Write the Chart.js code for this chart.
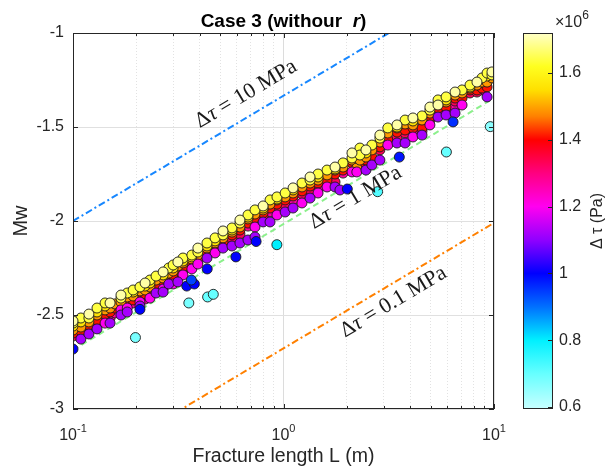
<!DOCTYPE html>
<html>
<head>
<meta charset="utf-8">
<script src="https://cdn.jsdelivr.net/npm/chart.js@4.4.0/dist/chart.umd.min.js"></script>
<style>
  html, body { margin: 0; padding: 0; background: #fff; }
</style>
</head>
<body>
<canvas id="chart" width="608" height="472"></canvas>
<script>
// ticks
const xTicks = [0.1, 0.2, 0.3, 0.4, 0.5, 0.6, 0.7, 0.8, 0.9, 1, 2, 3, 4, 5, 6, 7, 8, 9, 10];
const xMajor = [0.1, 1, 10];
const xExp = ['-1', '0', '1'];
const yTicks = [-3, -2.5, -2, -1.5, -1];
const cbTicks = [0.6, 0.8, 1, 1.2, 1.4, 1.6];
const cbRange = [0.594, 1.72];

// reference lines (Mw at L = 0.1 m and L = 10 m)
const refL = [0.1, 10];
const mw10MPa = [-2.0, -0.667];
const mw1MPa = [-2.686, -1.346];
const mw01MPa = [-3.345, -2.01];

// [L (m), Mw, delta tau (x1e6 Pa)]
const events = [
  [0.1, -2.532, 1.70], [0.1, -2.543, 1.64], [0.1, -2.559, 1.56], [0.1, -2.580, 1.49], [0.1, -2.596, 1.41], [0.1, -2.612, 1.33], [0.1, -2.681, 1.0],
  [0.109, -2.516, 1.64], [0.109, -2.537, 1.56], [0.109, -2.564, 1.49], [0.109, -2.585, 1.41], [0.109, -2.596, 1.33], [0.109, -2.628, 1.12],
  [0.119, -2.495, 1.70], [0.119, -2.516, 1.64], [0.119, -2.537, 1.49], [0.119, -2.553, 1.41], [0.119, -2.574, 1.33], [0.119, -2.601, 1.12],
  [0.130, -2.463, 1.64], [0.130, -2.484, 1.56], [0.130, -2.500, 1.49], [0.130, -2.527, 1.41], [0.130, -2.548, 1.27], [0.130, -2.574, 1.12],
  [0.142, -2.436, 1.64], [0.142, -2.452, 1.56], [0.142, -2.473, 1.49], [0.142, -2.495, 1.41], [0.142, -2.527, 1.33], [0.142, -2.543, 1.2],
  [0.150, -2.436, 1.70], [0.150, -2.463, 1.49], [0.150, -2.484, 1.41], [0.150, -2.516, 1.27], [0.150, -2.543, 1.12],
  [0.158, -2.441, 1.49], [0.158, -2.463, 1.41], [0.158, -2.489, 1.27],
  [0.169, -2.394, 1.70], [0.169, -2.410, 1.64], [0.169, -2.431, 1.49], [0.169, -2.447, 1.41], [0.169, -2.473, 1.2], [0.169, -2.500, 1.12],
  [0.181, -2.383, 1.64], [0.181, -2.404, 1.49], [0.181, -2.426, 1.41], [0.181, -2.447, 1.27], [0.181, -2.463, 1.2], [0.181, -2.484, 1.12],
  [0.193, -2.367, 1.64], [0.193, -2.378, 1.56], [0.193, -2.399, 1.49], [0.193, -2.420, 1.41], [0.193, -2.436, 1.27],
  [0.208, -2.470, 1.0], [0.198, -2.620, 0.68],
  [0.208, -2.351, 1.64], [0.208, -2.372, 1.49], [0.208, -2.388, 1.41], [0.208, -2.404, 1.33], [0.208, -2.431, 1.2], [0.208, -2.452, 1.12],
  [0.220, -2.330, 1.70], [0.220, -2.346, 1.56], [0.220, -2.367, 1.49], [0.220, -2.388, 1.41], [0.220, -2.415, 1.27],
  [0.232, -2.314, 1.64], [0.232, -2.330, 1.56], [0.232, -2.351, 1.49], [0.232, -2.367, 1.41], [0.232, -2.388, 1.33], [0.232, -2.410, 1.2],
  [0.248, -2.293, 1.64], [0.248, -2.314, 1.49], [0.248, -2.335, 1.41], [0.248, -2.356, 1.27], [0.248, -2.383, 1.12],
  [0.268, -2.271, 1.70], [0.268, -2.287, 1.56], [0.268, -2.303, 1.49], [0.268, -2.319, 1.41], [0.268, -2.340, 1.33], [0.268, -2.362, 1.2], [0.268, -2.378, 1.12],
  [0.285, -2.250, 1.64], [0.285, -2.277, 1.49], [0.285, -2.303, 1.41], [0.285, -2.319, 1.27], [0.285, -2.335, 1.12],
  [0.299, -2.234, 1.64], [0.299, -2.250, 1.56], [0.299, -2.266, 1.49], [0.299, -2.287, 1.41], [0.299, -2.309, 1.33], [0.299, -2.335, 1.2],
  [0.315, -2.218, 1.70], [0.315, -2.239, 1.49], [0.315, -2.261, 1.41], [0.315, -2.271, 1.27], [0.315, -2.324, 1.12],
  [0.333, -2.197, 1.64], [0.333, -2.213, 1.56], [0.333, -2.223, 1.49], [0.333, -2.245, 1.41], [0.333, -2.266, 1.33], [0.333, -2.287, 1.2],
  [0.347, -2.346, 1.0], [0.377, -2.335, 1.0], [0.365, -2.314, 0.94], [0.355, -2.436, 0.68],
  [0.367, -2.181, 1.64], [0.367, -2.191, 1.56], [0.367, -2.202, 1.49], [0.367, -2.218, 1.41], [0.367, -2.234, 1.33], [0.367, -2.255, 1.2],
  [0.392, -2.144, 1.70], [0.392, -2.165, 1.64], [0.392, -2.181, 1.49], [0.392, -2.197, 1.41], [0.392, -2.218, 1.27], [0.392, -2.229, 1.2],
  [0.433, -2.117, 1.64], [0.433, -2.133, 1.56], [0.433, -2.144, 1.49], [0.433, -2.165, 1.41], [0.433, -2.181, 1.33], [0.433, -2.197, 1.12],
  [0.434, -2.255, 1.0], [0.436, -2.404, 0.7], [0.464, -2.390, 0.7],
  [0.473, -2.090, 1.64], [0.473, -2.106, 1.56], [0.473, -2.117, 1.49], [0.473, -2.133, 1.41], [0.473, -2.154, 1.33], [0.473, -2.170, 1.2],
  [0.516, -2.053, 1.70], [0.516, -2.074, 1.64], [0.516, -2.090, 1.49], [0.516, -2.112, 1.41], [0.516, -2.133, 1.27], [0.516, -2.144, 1.12],
  [0.569, -2.037, 1.64], [0.569, -2.048, 1.56], [0.569, -2.059, 1.49], [0.569, -2.074, 1.41], [0.569, -2.096, 1.33], [0.569, -2.133, 1.12],
  [0.594, -2.191, 1.0],
  [0.621, -1.995, 1.70], [0.621, -2.011, 1.64], [0.621, -2.032, 1.49], [0.621, -2.048, 1.41], [0.621, -2.069, 1.33], [0.621, -2.117, 1.12],
  [0.678, -1.968, 1.64], [0.678, -1.979, 1.56], [0.678, -1.989, 1.49], [0.678, -2.011, 1.41], [0.678, -2.027, 1.27], [0.678, -2.101, 1.12],
  [0.732, -1.941, 1.64], [0.732, -1.963, 1.49], [0.732, -1.984, 1.41], [0.732, -2.005, 1.33], [0.732, -2.032, 1.2], [0.732, -2.085, 1.12],
  [0.741, -2.109, 1.0],
  [0.80, -1.920, 1.70], [0.80, -1.931, 1.56], [0.80, -1.941, 1.49], [0.80, -1.957, 1.41], [0.80, -1.979, 1.33], [0.80, -2.005, 1.12],
  [0.863, -1.888, 1.64], [0.863, -1.910, 1.49], [0.863, -1.931, 1.41], [0.863, -1.952, 1.27], [0.863, -2.005, 1.12],
  [0.931, -1.872, 1.64], [0.931, -1.883, 1.56], [0.931, -1.888, 1.49], [0.931, -1.910, 1.41], [0.931, -1.931, 1.33], [0.931, -1.968, 1.2],
  [0.93, -2.126, 0.8],
  [1.018, -1.851, 1.64], [1.018, -1.872, 1.49], [1.018, -1.888, 1.41], [1.018, -1.915, 1.33], [1.018, -1.952, 1.12],
  [1.11, -1.824, 1.70], [1.11, -1.835, 1.56], [1.11, -1.851, 1.49], [1.11, -1.867, 1.41], [1.11, -1.888, 1.27], [1.11, -1.931, 1.12],
  [1.224, -1.798, 1.64], [1.224, -1.819, 1.49], [1.224, -1.840, 1.41], [1.224, -1.856, 1.33], [1.224, -1.904, 1.2],
  [1.337, -1.766, 1.70], [1.337, -1.782, 1.64], [1.337, -1.798, 1.49], [1.337, -1.814, 1.41], [1.337, -1.835, 1.33], [1.337, -1.878, 1.12],
  [1.459, -1.750, 1.64], [1.459, -1.766, 1.56], [1.459, -1.782, 1.49], [1.459, -1.798, 1.41], [1.459, -1.835, 1.27], [1.459, -1.851, 1.2],
  [1.61, -1.729, 1.64], [1.61, -1.755, 1.49], [1.61, -1.782, 1.41], [1.61, -1.798, 1.33], [1.61, -1.819, 1.2],
  [1.757, -1.713, 1.70], [1.757, -1.723, 1.56], [1.757, -1.729, 1.49], [1.757, -1.750, 1.41], [1.757, -1.793, 1.33], [1.757, -1.819, 1.12],
  [1.918, -1.691, 1.64], [1.918, -1.713, 1.49], [1.918, -1.729, 1.41], [1.918, -1.745, 1.27], [1.854, -1.835, 1.12], [2.01, -1.830, 1.0],
  [2.115, -1.638, 1.70], [2.115, -1.665, 1.64], [2.115, -1.676, 1.49], [2.115, -1.691, 1.41], [2.115, -1.739, 1.2],
  [2.23, -1.718, 1.49], [2.23, -1.739, 1.2],
  [2.307, -1.612, 1.64], [2.307, -1.649, 1.64], [2.307, -1.676, 1.49], [2.307, -1.697, 1.41], [2.307, -1.718, 1.27],
  [2.464, -1.622, 1.70], [2.464, -1.638, 1.56], [2.464, -1.660, 1.49], [2.464, -1.676, 1.41], [2.464, -1.697, 1.33], [2.464, -1.729, 1.12],
  [2.63, -1.596, 1.64], [2.63, -1.622, 1.49], [2.63, -1.660, 1.41], [2.63, -1.686, 1.33], [2.63, -1.702, 1.12],
  [2.80, -1.844, 0.72],
  [2.87, -1.543, 1.70], [2.87, -1.559, 1.64], [2.87, -1.580, 1.49], [2.87, -1.606, 1.41], [2.87, -1.622, 1.33], [2.87, -1.676, 1.12],
  [3.13, -1.505, 1.64], [3.13, -1.532, 1.49], [3.13, -1.569, 1.41], [3.13, -1.585, 1.27], [3.13, -1.596, 1.2],
  [3.46, -1.489, 1.70], [3.46, -1.500, 1.56], [3.46, -1.505, 1.49], [3.46, -1.527, 1.41], [3.46, -1.559, 1.33], [3.46, -1.585, 1.12],
  [3.55, -1.660, 0.98],
  [3.78, -1.463, 1.64], [3.78, -1.484, 1.49], [3.78, -1.516, 1.41], [3.78, -1.532, 1.33], [3.78, -1.585, 1.12],
  [4.12, -1.452, 1.70], [4.12, -1.468, 1.56], [4.12, -1.489, 1.49], [4.12, -1.505, 1.41], [4.12, -1.527, 1.27], [4.12, -1.553, 1.2],
  [4.55, -1.441, 1.64], [4.55, -1.463, 1.49], [4.55, -1.505, 1.41], [4.55, -1.521, 1.33], [4.55, -1.543, 1.12],
  [4.96, -1.394, 1.70], [4.96, -1.410, 1.64], [4.96, -1.426, 1.49], [4.96, -1.447, 1.41], [4.96, -1.463, 1.33], [4.96, -1.489, 1.2],
  [5.42, -1.356, 1.64], [5.42, -1.383, 1.70], [5.42, -1.372, 1.49], [5.42, -1.399, 1.41], [5.42, -1.420, 1.33], [5.42, -1.447, 1.12],
  [5.92, -1.340, 1.64], [5.92, -1.356, 1.56], [5.92, -1.367, 1.49], [5.92, -1.394, 1.41], [5.92, -1.410, 1.27], [5.92, -1.436, 1.12],
  [5.94, -1.633, 0.7], [6.39, -1.473, 0.96],
  [6.53, -1.314, 1.70], [6.53, -1.330, 1.49], [6.53, -1.346, 1.41], [6.53, -1.362, 1.33], [6.53, -1.394, 1.27], [6.53, -1.426, 1.12],
  [7.05, -1.303, 1.64], [7.05, -1.319, 1.49], [7.05, -1.346, 1.41], [7.05, -1.383, 1.2],
  [7.69, -1.277, 1.64], [7.69, -1.287, 1.56], [7.69, -1.293, 1.49], [7.69, -1.303, 1.41], [7.69, -1.319, 1.33],
  [8.30, -1.261, 1.70], [8.30, -1.277, 1.49], [8.30, -1.303, 1.41], [8.30, -1.314, 1.33],
  [8.77, -1.239, 1.64], [8.77, -1.261, 1.49], [8.77, -1.293, 1.41], [8.77, -1.303, 1.27],
  [9.27, -1.213, 1.64], [9.27, -1.229, 1.56], [9.27, -1.261, 1.49], [9.27, -1.287, 1.41], [9.27, -1.340, 1.12],
  [9.78, -1.207, 1.70], [9.78, -1.223, 1.64], [9.78, -1.239, 1.49],
  [9.6, -1.498, 0.66]
];

// colormap of the colour bar (value x1e6 Pa, colour)
const cmapStops = [
  [0.594, '#c8ffff'], [0.70, '#66ffff'], [0.80, '#00f0ff'], [0.90, '#0070ff'], [1.00, '#0000ff'],
  [1.10, '#9000ff'], [1.20, '#ff00f0'], [1.30, '#ff0080'], [1.40, '#ff0000'], [1.47, '#ff8000'],
  [1.55, '#ffe000'], [1.62, '#ffff20'], [1.72, '#ffffc8']
];

const lineLabels = [
  { text: '10 MPa', L: 0.685, mw: -1.351, ref: mw10MPa },
  { text: '1 MPa', L: 2.27, mw: -1.902, ref: mw1MPa },
  { text: '0.1 MPa', L: 3.44, mw: -2.457, ref: mw01MPa }
];

function hexRgb(h) {
  return [parseInt(h.slice(1, 3), 16), parseInt(h.slice(3, 5), 16), parseInt(h.slice(5, 7), 16)];
}

function cmap(v) {
  if (v <= cmapStops[0][0]) return cmapStops[0][1];
  for (let i = 1; i < cmapStops.length; i++) {
    if (v <= cmapStops[i][0]) {
      const a = cmapStops[i - 1], b = cmapStops[i];
      const t = (v - a[0]) / (b[0] - a[0]);
      const ca = hexRgb(a[1]), cbb = hexRgb(b[1]);
      const c = ca.map((k, j) => Math.round(k + (cbb[j] - k) * t));
      return 'rgb(' + c.join(',') + ')';
    }
  }
  return cmapStops[cmapStops.length - 1][1];
}

const SANS = '"Liberation Sans", Arial, Helvetica, sans-serif';
const SERIF = '"Liberation Serif", "Times New Roman", serif';
const INK = '#262626';

Chart.defaults.font.family = SANS;
Chart.defaults.color = INK;

// drawing order: red -> yellow upward, then the pink/purple edge on top
const drawKey = t => (t > 1.25 ? t : 3 - t);
const sorted = events.slice().sort((a, b) => drawKey(a[2]) - drawKey(b[2]));

function refLine(vals, color, dash) {
  return {
    type: 'line',
    data: refL.map((L, i) => ({ x: L, y: vals[i] })),
    borderColor: color,
    borderWidth: 2,
    borderDash: dash,
    pointRadius: 0,
    fill: false,
    clip: 0,
    order: 2
  };
}

function hline(ctx, x1, y1, x2, y2) {
  ctx.beginPath();
  ctx.moveTo(x1, y1);
  ctx.lineTo(x2, y2);
  ctx.stroke();
}

const decor = {
  id: 'decor',
  afterDraw(chart) {
    const { ctx, chartArea: a, scales } = chart;
    const xs = scales.x, ys = scales.y, cs = scales.cb;
    ctx.save();

    // axes box and inward ticks
    ctx.strokeStyle = INK;
    ctx.lineWidth = 1;
    ctx.strokeRect(a.left + 0.5, a.top + 0.5, a.right - a.left - 1, a.bottom - a.top - 1);
    yTicks.forEach(v => {
      const py = Math.round(ys.getPixelForValue(v)) + 0.5;
      hline(ctx, a.left, py, a.left + 5, py);
      hline(ctx, a.right - 5, py, a.right, py);
    });
    xTicks.forEach(v => {
      const px = Math.round(xs.getPixelForValue(v)) + 0.5;
      const len = xMajor.includes(v) ? 5 : 3;
      hline(ctx, px, a.bottom, px, a.bottom - len);
      hline(ctx, px, a.top, px, a.top + len);
    });

    // x tick labels 10^n
    ctx.fillStyle = INK;
    ctx.textAlign = 'left';
    ctx.textBaseline = 'alphabetic';
    xMajor.forEach((v, i) => {
      ctx.font = '16px ' + SANS;
      const wb = ctx.measureText('10').width;
      ctx.font = '11px ' + SANS;
      const we = ctx.measureText(xExp[i]).width;
      const x0 = xs.getPixelForValue(v) - (wb + we) / 2;
      ctx.font = '16px ' + SANS;
      ctx.fillText('10', x0, a.bottom + 31);
      ctx.font = '11px ' + SANS;
      ctx.fillText(xExp[i], x0 + wb, a.bottom + 23);
    });

    // title with italic r
    const parts = [['Case 3 (withour  ', 'bold 19px '], ['r', 'italic bold 19px '], [')', 'bold 19px ']];
    let tw = 0;
    parts.forEach(p => { ctx.font = p[1] + SANS; tw += ctx.measureText(p[0]).width; });
    let tx = (a.left + a.right) / 2 - tw / 2;
    ctx.fillStyle = '#000';
    parts.forEach(p => {
      ctx.font = p[1] + SANS;
      ctx.fillText(p[0], tx, 27);
      tx += ctx.measureText(p[0]).width;
    });

    // labels along the reference lines
    ctx.fillStyle = '#1a1a1a';
    lineLabels.forEach(lb => {
      const px = xs.getPixelForValue(lb.L), py = ys.getPixelForValue(lb.mw);
      const ang = Math.atan2(ys.getPixelForValue(lb.ref[1]) - ys.getPixelForValue(lb.ref[0]),
        xs.getPixelForValue(refL[1]) - xs.getPixelForValue(refL[0]));
      const segs = [['\u0394', '22px '], ['\u03c4', 'italic 22px '], [' = ' + lb.text, '22px ']];
      let w = 0;
      segs.forEach(s => { ctx.font = s[1] + SERIF; w += ctx.measureText(s[0]).width; });
      ctx.save();
      ctx.translate(px, py);
      ctx.rotate(ang);
      let sx = -w / 2;
      segs.forEach(s => {
        ctx.font = s[1] + SERIF;
        ctx.fillText(s[0], sx, 0);
        sx += ctx.measureText(s[0]).width;
      });
      ctx.restore();
    });

    // colour bar
    const bx = a.right + 29, bw = 30;
    const top = cs.getPixelForValue(cbRange[1]), bot = cs.getPixelForValue(cbRange[0]);
    const g = ctx.createLinearGradient(0, bot, 0, top);
    cmapStops.forEach(s => g.addColorStop((s[0] - cbRange[0]) / (cbRange[1] - cbRange[0]), s[1]));
    ctx.fillStyle = g;
    ctx.fillRect(bx, top, bw, bot - top);
    ctx.strokeStyle = INK;
    ctx.strokeRect(bx + 0.5, top + 0.5, bw - 1, bot - top - 1);
    cbTicks.forEach(v => {
      const py = Math.round(cs.getPixelForValue(v)) + 0.5;
      hline(ctx, bx + bw - 5, py, bx + bw, py);
    });

    ctx.fillStyle = INK;
    ctx.font = '16px ' + SANS;
    ctx.fillText('\u00d710', bx + 32, 27);
    const wx = ctx.measureText('\u00d710').width;
    ctx.font = '12px ' + SANS;
    ctx.fillText('6', bx + 32 + wx, 19);

    ctx.save();
    ctx.translate(598, (top + bot) / 2);
    ctx.rotate(-Math.PI / 2);
    ctx.textAlign = 'center';
    ctx.textBaseline = 'middle';
    ctx.font = '16px ' + SANS;
    ctx.fillText('\u0394 \u03c4 (Pa)', 0, 0);
    ctx.restore();

    ctx.restore();
  }
};

new Chart(document.getElementById('chart'), {
  type: 'scatter',
  data: {
    datasets: [
      {
        data: sorted.map(e => ({ x: e[0], y: e[1] })),
        pointRadius: 5,
        pointBorderWidth: 0.9,
        pointBorderColor: '#1a1a1a',
        pointBackgroundColor: sorted.map(e => cmap(e[2])),
        order: 1
      },
      refLine(mw10MPa, '#1787ff', [7, 3, 2, 3]),
      refLine(mw1MPa, '#8cf08c', [6, 4]),
      refLine(mw01MPa, '#ff8000', [7, 3, 2, 3])
    ]
  },
  options: {
    responsive: false,
    animation: false,
    devicePixelRatio: 1,
    layout: { padding: { top: 33, left: 0, right: 0, bottom: 0 } },
    plugins: {
      legend: { display: false },
      tooltip: { enabled: false }
    },
    scales: {
      x: {
        type: 'logarithmic',
        min: 0.1,
        max: 10,
        afterBuildTicks: s => { s.ticks = xTicks.map(v => ({ value: v })); },
        ticks: { display: false },
        grid: {
          color: c => (c.tick && xMajor.includes(c.tick.value)) ? '#dcdcdc' : '#e2e2e2',
          drawTicks: false,
          tickLength: 0
        },
        border: {
          display: false,
          dash: c => (c.tick && !xMajor.includes(c.tick.value)) ? [1, 2] : []
        },
        title: { display: true, text: 'Fracture length L (m)', font: { size: 19.5 }, padding: { top: 0, bottom: 4 } },
        afterFit: s => { s.height = 63; }
      },
      y: {
        type: 'linear',
        min: -3,
        max: -1,
        afterBuildTicks: s => { s.ticks = yTicks.map(v => ({ value: v })); },
        ticks: { font: { size: 16 }, padding: 9, callback: v => String(v) },
        grid: { color: '#e0e0e0', drawTicks: false, tickLength: 0 },
        border: { display: false },
        title: { display: true, text: 'Mw', font: { size: 20 }, padding: { top: 9, bottom: 0 } },
        afterFit: s => { s.width = 73; }
      },
      cb: {
        type: 'linear',
        axis: 'y',
        position: 'right',
        min: cbRange[0],
        max: cbRange[1],
        afterBuildTicks: s => { s.ticks = cbTicks.map(v => ({ value: v })); },
        ticks: { font: { size: 16 }, padding: 5, callback: v => String(v) },
        grid: { display: false, drawOnChartArea: false, drawTicks: true, tickLength: 60 },
        border: { display: false },
        afterFit: s => { s.width = 114; }
      }
    }
  },
  plugins: [decor]
});
</script>
</body>
</html>
